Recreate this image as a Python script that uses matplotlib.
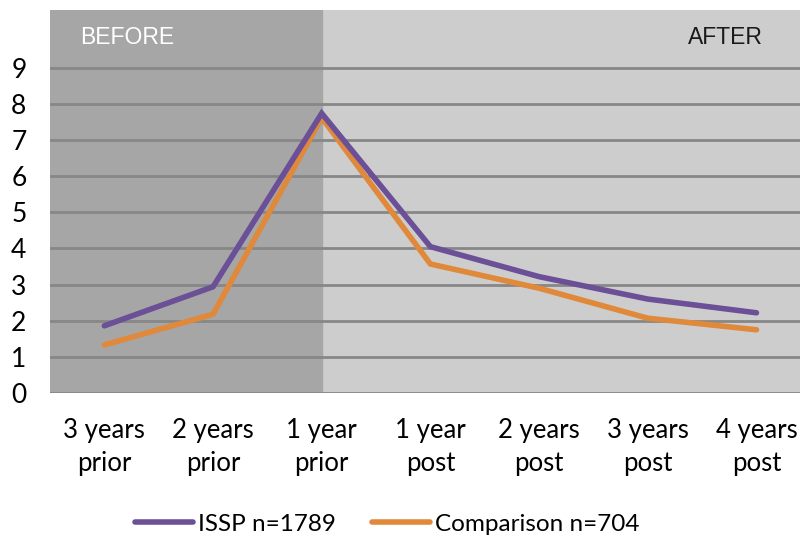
import numpy as np
import matplotlib.pyplot as plt

# ------------------------------------------------------------------
# Data
# ------------------------------------------------------------------

periods = ["3 years\nprior", "2 years\nprior", "1 year\nprior",
           "1 year\npost", "2 years\npost", "3 years\npost", "4 years\npost"]

issp = [1.86, 2.94, 7.74, 4.05, 3.22, 2.60, 2.22]
comparison = [1.33, 2.18, 7.62, 3.57, 2.90, 2.07, 1.75]

issp_label = "ISSP n=1789"
comparison_label = "Comparison n=704"

# ------------------------------------------------------------------
# Plot
# ------------------------------------------------------------------

plt.rcParams['font.family'] = ['Lato', 'DejaVu Sans']

fig = plt.figure(figsize=(8, 5.36), dpi=100)
ax = fig.add_axes([0.0625, 0.2668, 0.951, 0.7145])

x = np.arange(len(periods))

ax.set_facecolor("#cdcdcd")
ax.axvspan(-0.5, 2, color="#a6a6a6", zorder=0)

for yv in range(0, 10):
    ax.axhline(yv, color="#878787", lw=2, zorder=1)

ax.plot(x, issp, color="#6b4f97", lw=4, label=issp_label,
        solid_capstyle="round", solid_joinstyle="miter", zorder=3)
ax.plot(x, comparison, color="#e0893b", lw=4, label=comparison_label,
        solid_capstyle="round", solid_joinstyle="miter", zorder=2)

ax.set_xlim(-0.5, 6.5)
ax.set_ylim(0, 10.6)

ax.set_yticks(range(0, 10))
ax.set_xticks(x)
ax.set_xticklabels(periods, fontsize=18.5, linespacing=1.38)
ax.tick_params(axis="y", length=0, pad=17, labelsize=19)
ax.tick_params(axis="x", length=0, pad=18)

for s in ax.spines.values():
    s.set_visible(False)

ax.text(-0.225, 9.83, "BEFORE", family="Liberation Sans", fontsize=16.5,
        color="white", va="center", ha="left")
ax.text(6.06, 9.83, "AFTER", family="Liberation Sans", fontsize=16.5,
        color="#1a1a1a", va="center", ha="right")

fig.legend(loc="center", bbox_to_anchor=(0.484, 0.022), ncol=2,
           frameon=False, fontsize=17.5, handlelength=2.4,
           handletextpad=0.2, columnspacing=1.5)

fig.savefig("out.png", dpi=100)
